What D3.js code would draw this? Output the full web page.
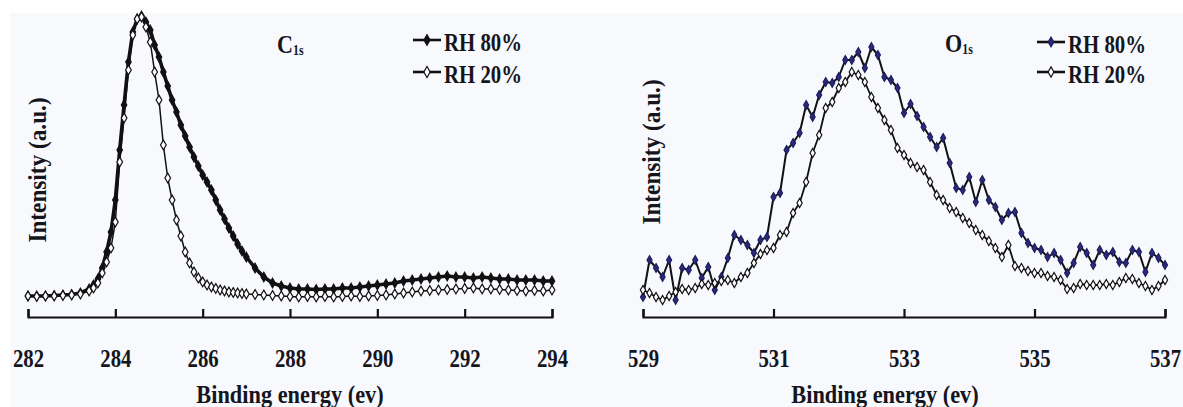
<!DOCTYPE html>
<html>
<head>
<meta charset="utf-8">
<script src="https://cdn.jsdelivr.net/npm/d3@7"></script>
<style>
  html, body { margin: 0; padding: 0; background: #fff; }
  svg { display: block; }
  text { font-family: "Liberation Serif", "Times New Roman", serif; font-weight: bold; fill: #15151d; }
</style>
</head>
<body>
<div id="chart"></div>
<script>
const width = 1183;
const height = 407;

// C1s spectrum (binding energy in eV, intensity in arbitrary units)
const c1sEnergy = [282.0, 282.2, 282.4, 282.6, 282.8, 283.0, 283.2, 283.4,
  283.5, 283.6, 283.7, 283.8, 283.9, 284.0, 284.1, 284.2, 284.3, 284.4, 284.5, 284.6, 284.7, 284.8, 284.9,
  285.0, 285.1, 285.2, 285.3, 285.4, 285.5, 285.6, 285.7, 285.8, 285.9, 286.0, 286.1, 286.2, 286.3, 286.4,
  286.5, 286.6, 286.7, 286.8, 286.9, 287.0,
  287.2, 287.4, 287.6, 287.8, 288.0, 288.2, 288.4, 288.6, 288.8, 289.0, 289.2, 289.4, 289.6, 289.8,
  290.0, 290.2, 290.4, 290.6, 290.8, 291.0, 291.2, 291.4, 291.6, 291.8, 292.0, 292.2, 292.4, 292.6,
  292.8, 293.0, 293.2, 293.4, 293.6, 293.8, 294.0];
const c1sRH80 = [22, 22, 22, 22.5, 23, 23.5, 25, 29,
  33, 39, 50, 66, 86, 118, 168, 213, 256, 286, 299, 302, 296, 288, 273,
  261, 246, 232, 218, 206, 193, 182, 171, 161, 152, 143, 136, 128, 118, 108,
  99, 90, 82, 74, 67, 61,
  50, 41, 35, 32, 30, 29, 29, 28.5, 29, 29, 30, 30, 31, 32,
  33, 34, 35, 37, 38, 39, 40, 41, 42, 41, 41, 40, 41, 40,
  39, 39, 38, 38, 38, 37, 37];
const c1sRH20 = [22, 21.5, 22, 22, 22.5, 23, 24, 27,
  30, 35, 45, 56, 70, 96, 156, 200, 248, 283, 299, 301, 291, 276, 246,
  218, 173, 140, 118, 98, 82, 66, 55, 46, 40, 36, 33, 31, 29.5, 28,
  27, 26, 25.5, 25, 24.5, 24,
  23.5, 23, 22.5, 22, 21.5, 21, 21.5, 21, 21.5, 21, 21.5, 22, 21.5, 22,
  22.5, 23, 24, 25, 26, 27, 27.5, 28, 28.5, 29, 29.5, 30, 29, 29,
  28.5, 28, 27.5, 27, 27.5, 27, 28];

// O1s spectrum
const o1sEnergy = [529.0, 529.1, 529.2, 529.3, 529.4, 529.5, 529.6, 529.7, 529.8, 529.9,
  530.0, 530.1, 530.2, 530.3, 530.4, 530.5, 530.6, 530.7, 530.8, 530.9,
  531.0, 531.1, 531.2, 531.3, 531.4, 531.5, 531.6, 531.7, 531.8, 531.9,
  532.0, 532.1, 532.2, 532.3, 532.4, 532.5, 532.6, 532.7, 532.8, 532.9,
  533.0, 533.1, 533.2, 533.3, 533.4, 533.5, 533.6, 533.7, 533.8, 533.9,
  534.0, 534.1, 534.2, 534.3, 534.4, 534.5, 534.6, 534.7, 534.8, 534.9,
  535.0, 535.1, 535.2, 535.3, 535.4, 535.5, 535.6, 535.7, 535.8, 535.9,
  536.0, 536.1, 536.2, 536.3, 536.4, 536.5, 536.6, 536.7, 536.8, 536.9, 537.0];
const o1sRH80 = [21, 58, 50, 41, 58, 18, 50, 48, 58, 40,
  51, 28, 41, 60, 83, 78, 73, 65, 78, 81,
  121, 125, 168, 175, 185, 213, 201, 223, 236, 235,
  241, 258, 258, 266, 250, 271, 263, 241, 238, 230,
  205, 214, 202, 191, 181, 171, 180, 155, 130, 128,
  141, 116, 138, 118, 111, 98, 105, 106, 85, 75,
  70, 68, 61, 65, 58, 45, 55, 71, 65, 53,
  68, 63, 66, 56, 55, 68, 66, 46, 65, 60, 53];
const o1sRH20 = [28, 25, 21, 18, 22, 26, 29, 28, 30, 34,
  33, 35, 37, 38, 35, 41, 45, 55, 64, 68,
  70, 83, 86, 105, 115, 136, 165, 183, 210, 216,
  230, 236, 246, 243, 236, 221, 210, 198, 188, 170,
  163, 155, 151, 148, 136, 123, 118, 110, 106, 100,
  95, 88, 83, 77, 70, 61, 73, 52, 50, 47,
  45, 45, 42, 41, 38, 29, 30, 34, 33, 33,
  33, 34, 33, 36, 40, 39, 35, 32, 28, 32, 38];

const c1sTicks = [282, 284, 286, 288, 290, 292, 294];
const o1sTicks = [529, 531, 533, 535, 537];

const svg = d3.select("#chart").append("svg")
  .attr("width", width)
  .attr("height", height);

// pale scanned-paper background
svg.append("rect")
  .attr("x", 10).attr("y", 13)
  .attr("width", width - 10).attr("height", height - 13)
  .attr("fill", "#f8f9fc");

const axisY = 317;
const yScale = d3.scaleLinear().domain([0, 300]).range([318, 18]);

// text squeezed horizontally like the scanned Times face
function label(g, x, y, str, size, anchor, sx) {
  return g.append("text")
    .attr("transform", `translate(${x},${y}) scale(${sx || 0.8},1)`)
    .attr("text-anchor", anchor || "start")
    .attr("font-size", size)
    .text(str);
}

function drawPanel(opt) {
  const g = svg.append("g");
  const x = d3.scaleLinear().domain(opt.domain).range(opt.range);

  const axis = g.append("g")
    .attr("transform", `translate(0,${axisY})`)
    .call(d3.axisBottom(x).tickValues(opt.ticks).tickFormat(d3.format("d"))
      .tickSizeInner(-8).tickSizeOuter(-8));
  axis.attr("color", "#111").attr("font-size", 26);
  axis.selectAll("path, line").attr("stroke-width", 2.2);
  axis.selectAll("text")
    .attr("y", 50).attr("dy", null)
    .attr("transform", "scale(0.8,1)");

  label(g, opt.titleX, 403, "Binding energy (ev)", 26, "middle", 0.86);

  g.append("text")
    .attr("transform", `translate(${opt.yLabelX},${opt.yLabelY}) rotate(-90) scale(0.93,1)`)
    .attr("text-anchor", "middle")
    .attr("dy", "0.35em")
    .attr("font-size", 25)
    .text("Intensity (a.u.)");

  const line = (vals) => d3.line()
    .x((d, i) => x(opt.energy[i]))
    .y(d => yScale(d))(vals);

  // first series in the list is RH 80% (drawn underneath)
  opt.series.forEach(s => {
    g.append("path")
      .attr("d", line(s.values))
      .attr("fill", "none")
      .attr("stroke", "#111")
      .attr("stroke-width", s.lineWidth)
      .attr("stroke-linejoin", "round");
    g.append("g").selectAll("path")
      .data(s.values)
      .join("path")
      .attr("transform", (d, i) => `translate(${x(opt.energy[i])},${yScale(d)})`)
      .attr("d", d3.symbol(d3.symbolDiamond, s.size)())
      .attr("fill", s.fill)
      .attr("stroke", s.stroke)
      .attr("stroke-width", 1.2);
  });

  // peak name with subscript
  const t = g.append("text")
    .attr("transform", `translate(${opt.nameX},${opt.nameY}) scale(0.85,1)`)
    .attr("font-size", 26);
  t.append("tspan").text(opt.name);
  t.append("tspan").attr("font-size", 14).attr("dy", 2).text("1s");

  // legend
  opt.series.forEach((s, i) => {
    const ly = opt.legendY[i];
    g.append("line")
      .attr("x1", opt.legendX).attr("x2", opt.legendX + 28)
      .attr("y1", ly).attr("y2", ly)
      .attr("stroke", "#111").attr("stroke-width", 2.6);
    g.append("path")
      .attr("transform", `translate(${opt.legendX + 14},${ly})`)
      .attr("d", d3.symbol(d3.symbolDiamond, s.size + 6)())
      .attr("fill", s.fill)
      .attr("stroke", s.stroke)
      .attr("stroke-width", 1.2);
    label(g, opt.legendX + 31, ly + 11, s.name, 26, "start", 0.8);
  });
}

drawPanel({
  domain: [282, 294], range: [28, 552], ticks: c1sTicks,
  energy: c1sEnergy,
  titleX: 290, yLabelX: 37, yLabelY: 170,
  name: "C", nameX: 277, nameY: 53,
  legendX: 413, legendY: [40, 72],
  series: [
    { name: "RH 80%", values: c1sRH80, lineWidth: 3.6, size: 26, fill: "#111", stroke: "#111" },
    { name: "RH 20%", values: c1sRH20, lineWidth: 1.5, size: 28, fill: "#fff", stroke: "#111" }
  ]
});

drawPanel({
  domain: [529, 537], range: [643, 1165], ticks: o1sTicks,
  energy: o1sEnergy,
  titleX: 885, yLabelX: 651, yLabelY: 152,
  name: "O", nameX: 945, nameY: 52,
  legendX: 1037, legendY: [42, 72],
  series: [
    { name: "RH 80%", values: o1sRH80, lineWidth: 2, size: 22, fill: "#2a2a7c", stroke: "#1d1d5e" },
    { name: "RH 20%", values: o1sRH20, lineWidth: 1.8, size: 24, fill: "#fff", stroke: "#111" }
  ]
});
</script>
</body>
</html>
